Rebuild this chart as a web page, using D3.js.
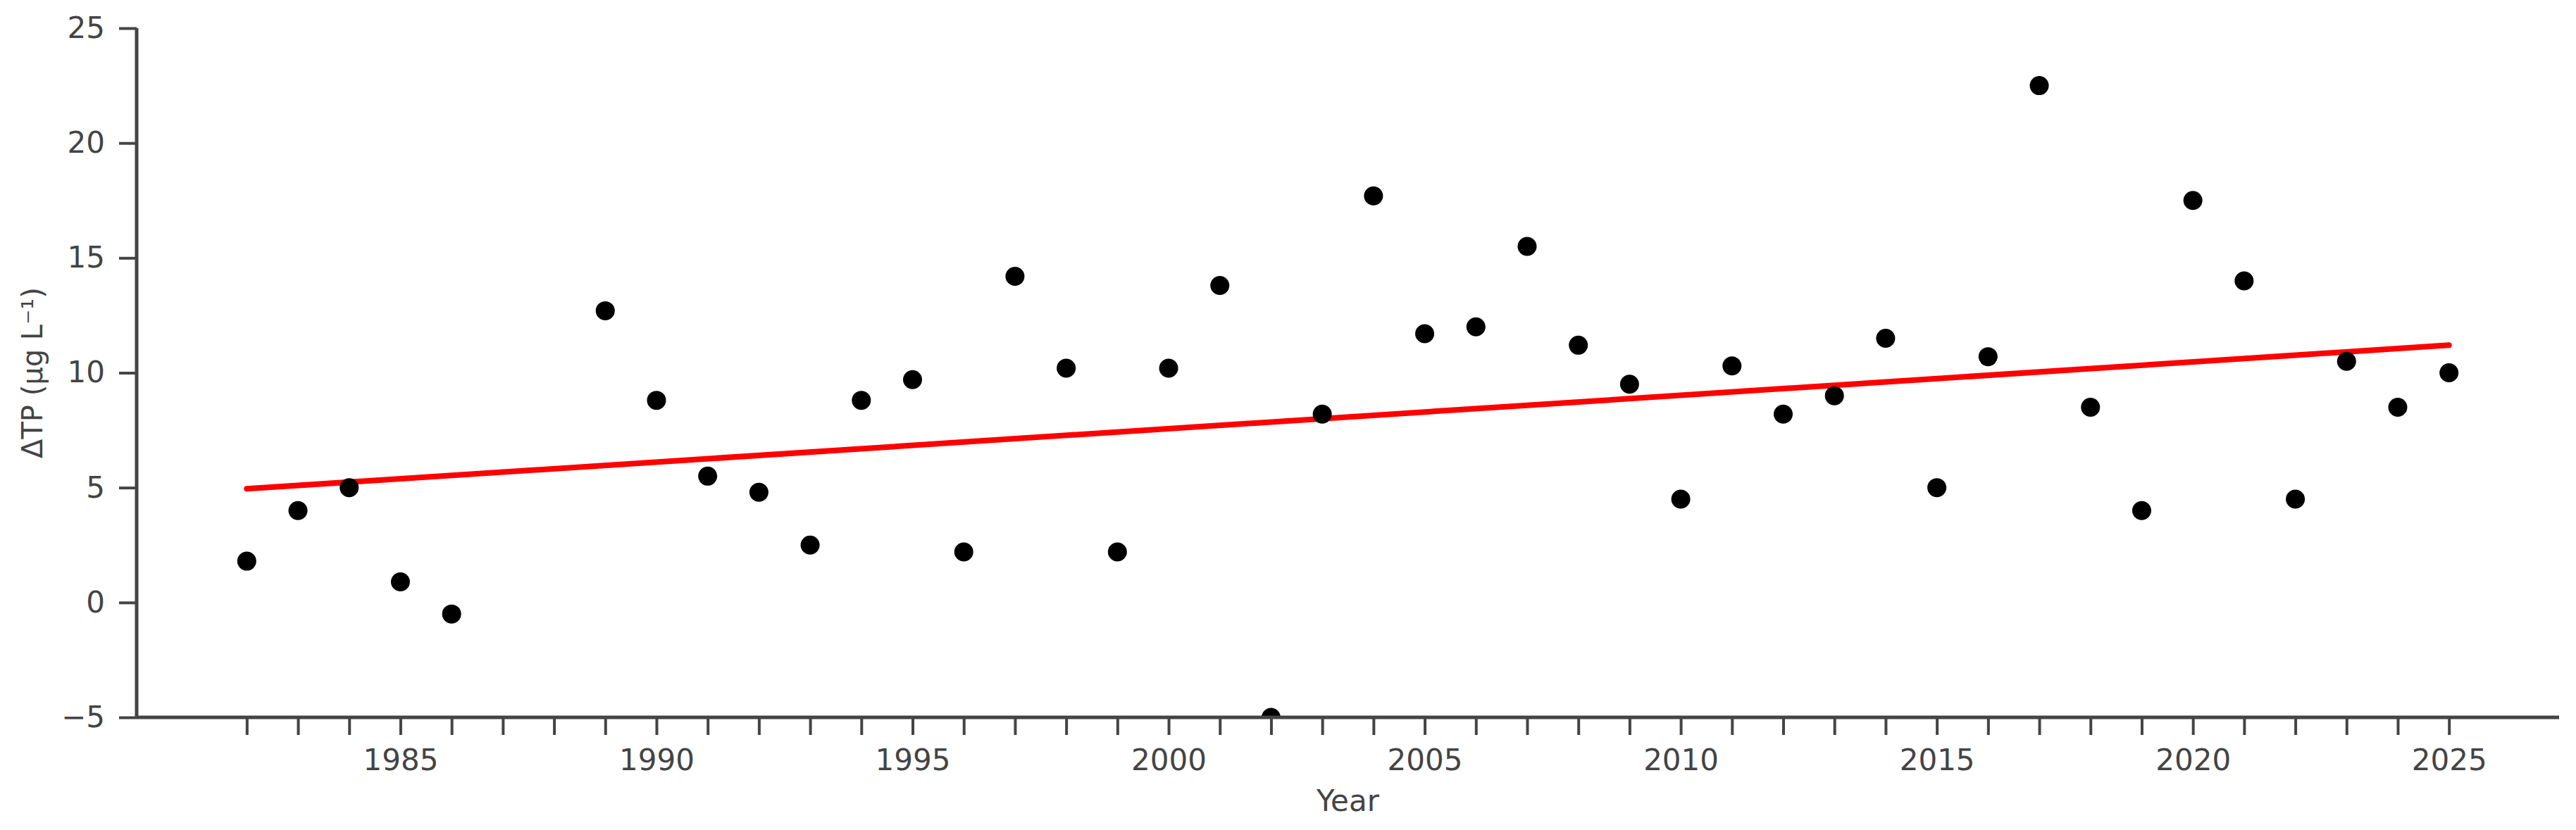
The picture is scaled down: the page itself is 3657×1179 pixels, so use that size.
<!DOCTYPE html>
<html>
<head>
<meta charset="utf-8">
<script src="https://cdn.jsdelivr.net/npm/d3@7"></script>
<style>
  html, body { margin: 0; padding: 0; background: #fff; }
  text { font-family: "DejaVu Sans", sans-serif; fill: #444; }
</style>
</head>
<body>
<svg id="chart"></svg>
<script>
// data
const years = [1982, 1983, 1984, 1985, 1986, 1989, 1990, 1991, 1992, 1993, 1994, 1995,
  1996, 1997, 1998, 1999, 2000, 2001, 2002, 2003, 2004, 2005, 2006, 2007, 2008, 2009,
  2010, 2011, 2012, 2013, 2014, 2015, 2016, 2017, 2018, 2019, 2020, 2021, 2022, 2023,
  2024, 2025];
const deltaTP = [1.8, 4.0, 5.0, 0.9, -0.5, 12.7, 8.8, 5.5, 4.8, 2.5, 8.8, 9.7,
  2.2, 14.2, 10.2, 2.2, 10.2, 13.8, -5.0, 8.2, 17.7, 11.7, 12.0, 15.5, 11.2, 9.5,
  4.5, 10.3, 8.2, 9.0, 11.5, 5.0, 10.7, 22.5, 8.5, 4.0, 17.5, 14.0, 4.5, 10.5,
  8.5, 10.0];
const trendYears = [1982, 2025];
const trendValues = [4.95, 11.2];
const yTicks = [-5, 0, 5, 10, 15, 20, 25];
const xLabelYears = [1985, 1990, 1995, 2000, 2005, 2010, 2015, 2020, 2025];

const W = 3657, H = 1179;
const margin = {top: 40, right: 24, bottom: 160, left: 194};
const iw = W - margin.left - margin.right;
const ih = H - margin.top - margin.bottom;

const svg = d3.select('#chart').attr('width', W).attr('height', H);
const g = svg.append('g').attr('transform', 'translate(' + margin.left + ',' + margin.top + ')');

const pad = (d3.max(years) - d3.min(years)) * 0.05;
const x = d3.scaleLinear().domain([d3.min(years) - pad, d3.max(years) + pad]).range([0, iw]);
const y = d3.scaleLinear().domain([-5, 25]).range([ih, 0]);

g.append('clipPath').attr('id', 'plotclip')
  .append('rect').attr('width', iw).attr('height', ih);

const plot = g.append('g').attr('clip-path', 'url(#plotclip)');

// trend line
plot.append('path')
  .datum(trendYears.map((yr, i) => [yr, trendValues[i]]))
  .attr('fill', 'none')
  .attr('stroke', '#ff0000')
  .attr('stroke-width', 8)
  .attr('stroke-linecap', 'round')
  .attr('d', d3.line().x(d => x(d[0])).y(d => y(d[1])));

// points
plot.selectAll('circle')
  .data(years.map((yr, i) => ({yr: yr, v: deltaTP[i]})))
  .enter()
  .append('circle')
  .attr('cx', d => x(d.yr))
  .attr('cy', d => y(d.v))
  .attr('r', 13.5)
  .attr('fill', '#000');

// x axis: tick every year, label every 5
const xAxis = d3.axisBottom(x)
  .tickValues(d3.range(d3.min(years), d3.max(years) + 1))
  .tickSize(25)
  .tickPadding(20)
  .tickFormat(d => xLabelYears.includes(d) ? d : '');
const gx = g.append('g').attr('transform', 'translate(0,' + ih + ')').call(xAxis);

const yAxis = d3.axisLeft(y).tickValues(yTicks).tickSize(25).tickPadding(20)
  .tickFormat(d => d < 0 ? '\u2212' + Math.abs(d) : d);
const gy = g.append('g').call(yAxis);

[gx, gy].forEach(a => {
  a.select('.domain').remove();
  a.selectAll('.tick line').attr('stroke', '#444').attr('stroke-width', 4);
  a.selectAll('.tick text').style('font-size', '42px').attr('fill', '#444');
});

// spines
g.append('line').attr('x1', 0).attr('x2', iw).attr('y1', ih).attr('y2', ih)
  .attr('stroke', '#444').attr('stroke-width', 5);
g.append('line').attr('x1', 0).attr('x2', 0).attr('y1', 0).attr('y2', ih)
  .attr('stroke', '#444').attr('stroke-width', 5);

// axis titles
svg.append('text')
  .attr('x', margin.left + iw / 2)
  .attr('y', 1152)
  .attr('text-anchor', 'middle')
  .style('font-size', '42px')
  .text('Year');

svg.append('text')
  .attr('transform', 'translate(60,' + (margin.top + ih / 2) + ') rotate(-90)')
  .attr('text-anchor', 'middle')
  .style('font-size', '40px')
  .text('\u0394TP (\u00b5g L\u207b\u00b9)');
</script>
</body>
</html>
